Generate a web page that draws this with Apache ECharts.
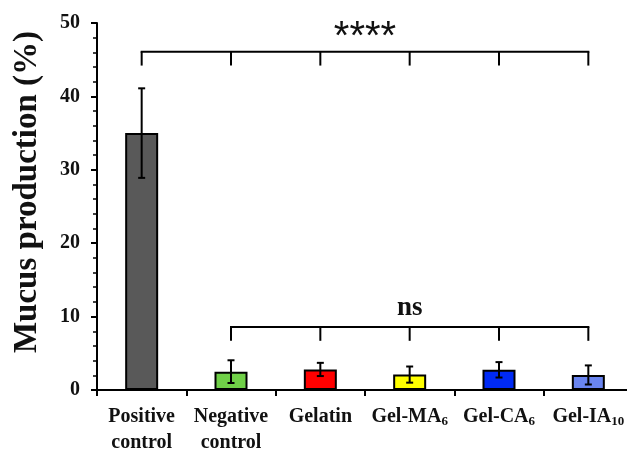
<!DOCTYPE html>
<html>
<head>
<meta charset="utf-8">
<script src="https://cdn.jsdelivr.net/npm/echarts@6/dist/echarts.min.js"></script>
<style>
	html, body { margin: 0; padding: 0; background: #fff; }
	#chart { width: 627px; height: 450px; }
</style>
</head>
<body>
<div id="chart"></div>
<script>
	// data
	var categories = ['Positive\ncontrol', 'Negative\ncontrol', 'Gelatin', 'Gel-MA6', 'Gel-CA6', 'Gel-IA10']
	var means = [35.0, 2.5, 2.8, 2.1, 2.75, 2.05]
	var errors = [6.1, 1.55, 0.9, 1.1, 1.05, 1.3]
	var barColors = ['#595959', '#70d048', '#ff0000', '#ffff00', '#002af5', '#6a85f0']
	var yTicks = [0, 10, 20, 30, 40, 50]
	// significance brackets: first category, last category, bar level, leg end, label
	var bracketStart = [0, 1]
	var bracketEnd = [5, 5]
	var bracketLevel = [46.1, 8.6]
	var bracketLegEnd = [44.2, 6.7]
	var bracketLabel = ['****', 'ns']

	var serif = '"Liberation Serif", "Times New Roman", serif'

	var chart = echarts.init(document.getElementById('chart'))

	function labelFormatter(value) {
		if (value === 'Gel-MA6') return 'Gel-MA{sub|6}'
		if (value === 'Gel-CA6') return 'Gel-CA{sub|6}'
		if (value === 'Gel-IA10') return 'Gel-IA{sub|10}'
		return value
	}

	var errorData = means.map(function (m, i) {
		return [i, m - errors[i], m + errors[i]]
	})
	var bracketData = bracketLabel.map(function (t, i) {
		return [bracketStart[i], bracketEnd[i], bracketLevel[i], bracketLegEnd[i], t]
	})

	var option = {
		animation: false,
		backgroundColor: '#fff',
		grid: { left: 97, top: 23, width: 536, height: 367, outerBoundsMode: 'none', containLabel: false },
		xAxis: {
			type: 'category',
			data: categories,
			axisLine: { lineStyle: { color: '#000', width: 2 } },
			axisTick: { show: true, length: 6, lineStyle: { color: '#000', width: 2 } },
			axisLabel: {
				interval: 0,
				margin: 14,
				color: '#111',
				fontFamily: serif,
				fontWeight: 'bold',
				fontSize: 20,
				lineHeight: 26,
				formatter: labelFormatter,
				rich: {
					sub: { fontFamily: serif, fontWeight: 'bold', fontSize: 13, padding: [10, 0, 0, 0], color: '#111' }
				}
			}
		},
		yAxis: {
			type: 'value',
			min: yTicks[0],
			max: yTicks[yTicks.length - 1],
			interval: 10,
			splitLine: { show: false },
			axisLine: { show: true, lineStyle: { color: '#000', width: 2 } },
			axisTick: { show: true, length: 6, lineStyle: { color: '#000', width: 2 } },
			minorTick: { show: true, splitNumber: 5, length: 4, lineStyle: { color: '#000', width: 1.5 } },
			axisLabel: {
				margin: 17,
				color: '#111',
				fontFamily: serif,
				fontWeight: 'bold',
				fontSize: 20
			}
		},
		graphic: [{
			type: 'text',
			x: 27,
			y: 192,
			rotation: Math.PI / 2,
			style: {
				text: 'Mucus production (%)',
				font: 'bold 33px ' + serif,
				fill: '#111',
				align: 'center',
				verticalAlign: 'middle'
			}
		}],
		series: [{
			type: 'bar',
			barWidth: 33,
			data: means.map(function (v, i) {
				return { value: v, itemStyle: { color: barColors[i] } }
			}),
			itemStyle: { borderColor: '#000', borderWidth: 2 },
			z: 2
		}, {
			type: 'custom',
			data: errorData,
			z: 3,
			renderItem: function (params, api) {
				var x = api.coord([api.value(0), 0])[0]
				var lo = api.coord([api.value(0), api.value(1)])[1]
				var hi = api.coord([api.value(0), api.value(2)])[1]
				var cap = 3.5
				var st = { stroke: '#000', lineWidth: 2 }
				return {
					type: 'group',
					children: [
						{ type: 'line', shape: { x1: x, y1: lo, x2: x, y2: hi }, style: st },
						{ type: 'line', shape: { x1: x - cap, y1: hi, x2: x + cap, y2: hi }, style: st },
						{ type: 'line', shape: { x1: x - cap, y1: lo, x2: x + cap, y2: lo }, style: st }
					]
				}
			}
		}, {
			type: 'custom',
			data: bracketData,
			z: 4,
			encode: { x: [0, 1], y: [2, 3] },
			renderItem: function (params, api) {
				var s = api.value(0), e = api.value(1)
				var yTop = api.coord([s, api.value(2)])[1]
				var yLeg = api.coord([s, api.value(3)])[1]
				var x1 = api.coord([s, 0])[0]
				var x2 = api.coord([e, 0])[0]
				var st = { stroke: '#000', lineWidth: 2 }
				var children = [{ type: 'line', shape: { x1: x1 - 1, y1: yTop, x2: x2 + 1, y2: yTop }, style: st }]
				for (var i = s; i <= e; i++) {
					var xi = api.coord([i, 0])[0]
					children.push({ type: 'line', shape: { x1: xi, y1: yTop, x2: xi, y2: yLeg }, style: st })
				}
				var txt = bracketData[params.dataIndex][4]
				var isStar = txt.indexOf('*') >= 0
				children.push({
					type: 'text',
					x: (x1 + x2) / 2,
					y: yTop - (isStar ? 14 : 19),
					style: {
						text: txt,
						font: isStar ? 'normal 40px "Liberation Sans", sans-serif' : 'bold 27px ' + serif,
						fill: '#111',
						align: 'center',
						verticalAlign: 'middle'
					}
				})
				return { type: 'group', children: children }
			}
		}]
	}
	chart.setOption(option)
</script>
</body>
</html>
